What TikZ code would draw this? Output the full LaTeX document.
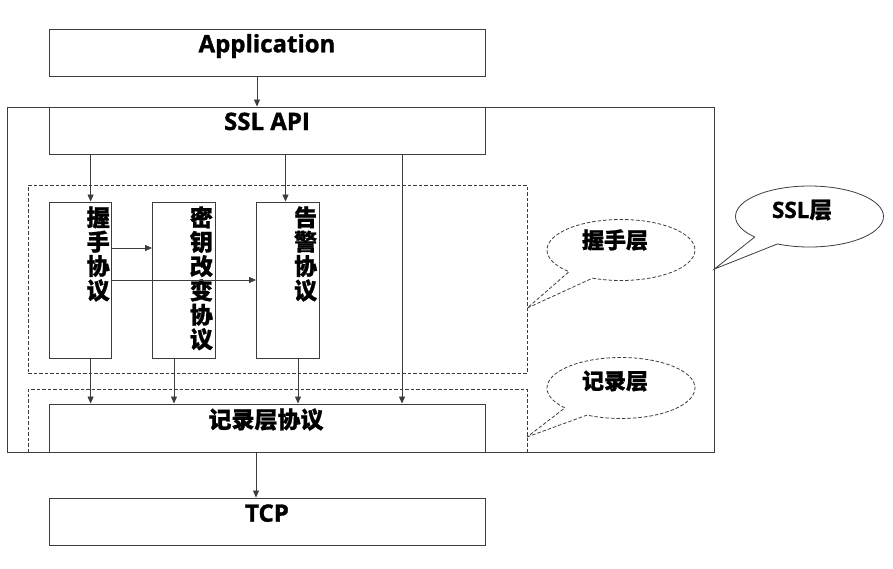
\documentclass[tikz,border=0pt]{standalone}
\usepackage{fontspec}
\setmainfont{Open Sans}[BoldFeatures={FakeBold=1.3}]
\newfontfamily\cjk{Noto Sans CJK SC}[BoldFeatures={FakeBold=1}]
\usetikzlibrary{arrows.meta,shapes.callouts}
\definecolor{lc}{RGB}{60,60,60}
\begin{document}
\begin{tikzpicture}[x=1pt,y=-1pt,
  box/.style={draw=lc, line width=0.9pt, rectangle, inner sep=0pt},
  layer/.style={draw=lc, line width=0.7pt, dashed, dash pattern=on 3.5pt off 2pt, rectangle, inner sep=0pt},
  arr/.style={draw=lc, line width=0.8pt, -{Triangle[length=7pt,width=6pt]}},
  lbl/.style={inner sep=0pt, font=\fontsize{24}{24}\selectfont\bfseries},
  vlbl/.style={inner sep=0pt, align=center, font=\fontsize{23}{24.3}\selectfont\cjk\bfseries},
  bub/.style={ellipse callout, draw=lc, line width=0.8pt, inner sep=0pt, minimum width=148pt, minimum height=61pt, callout pointer arc=22},
  blbl/.style={inner sep=0pt, font=\fontsize{22.5}{24}\selectfont\bfseries}
]
\useasboundingbox (0,0) rectangle (893,568);
% layer dashed boxes
\node[layer, minimum width=499pt, minimum height=188pt] (hsl) at (277.5,279) {};
\coordinate (rl1) at (28,452);
\coordinate (rl2) at (527,452);
\draw[draw=lc, line width=0.7pt, dash pattern=on 3.5pt off 2pt] (rl1) -- (28,389) -- (527,389) -- (rl2);
% main boxes
\node[box, minimum width=706.5pt, minimum height=345pt] (sslout) at (360.75,279.5) {};
\node[box, fill=white, minimum width=436pt, minimum height=47pt] (app) at (267,52.5) {};
\node[box, minimum width=436pt, minimum height=47pt] (api) at (267,130.5) {};
\node[box, fill=white, minimum width=436pt, minimum height=48pt] (rec) at (267,428) {};
\node[box, minimum width=436pt, minimum height=47pt] (tcp) at (267,521.5) {};
\node[box, minimum width=62pt, minimum height=156pt] (hs) at (80,280) {};
\node[box, minimum width=62.5pt, minimum height=156pt] (kc) at (183.75,280) {};
\node[box, minimum width=62.5pt, minimum height=156pt] (al) at (287.75,280) {};
\draw[draw=lc, line width=0.7pt, dash pattern=on 3.5pt off 2pt] (rl1) -- (28,405);
% texts
\node[lbl, anchor=base] (appT) at (267,52.3) {Application};
\node[lbl, anchor=base] (apiT) at (267,130) {SSL API};
\node[lbl, anchor=base] (tcpT) at (267,521.7) {TCP};
\node[lbl, font=\fontsize{23}{24}\selectfont\cjk\bfseries] (recT) at (266,419.5) {记录层协议};
\node[vlbl] (hsT) at (98.2,254) {握\\手\\协\\议};
\node[vlbl] (kcT) at (201.4,278.3) {密\\钥\\改\\变\\协\\议};
\node[vlbl] (alT) at (305.6,254) {告\\警\\协\\议};
% arrows
\draw[arr] ([xshift=-10pt]app.south) -- ([xshift=-10pt]api.north);
\draw[arr] ([xshift=10.6pt]hs.north |- api.south) -- ([xshift=10.6pt]hs.north);
\draw[arr] ([xshift=-2.25pt]al.north |- api.south) -- ([xshift=-2.25pt]al.north);
\draw[arr] (402,154) coordinate (apx) -- (apx |- rec.north);
\draw[arr] ([yshift=32pt]hs.east) -- ([yshift=32pt]hs.east -| kc.west);
\draw[arr] (hs.east) -- (al.west);
\draw[arr] ([xshift=10.6pt]hs.south) -- ([xshift=10.6pt]hs.south |- rec.north);
\draw[arr] ([xshift=-9.75pt]kc.south) -- ([xshift=-9.75pt]kc.south |- rec.north);
\draw[arr] ([xshift=10.25pt]al.south) -- ([xshift=10.25pt]al.south |- rec.north);
\draw[arr] ([xshift=-11pt]rec.south) -- ([xshift=-11pt]tcp.north);
% callouts
\coordinate (sslptr) at ([yshift=10.5pt]sslout.east);
\coordinate (hsptr) at ([yshift=-29pt]hsl.east);
\coordinate (recptr) at (527,437);
\node[bub, callout absolute pointer={(sslptr)}] (sslc) at (809.5,216.5) {};
\node[bub, dashed, dash pattern=on 3.5pt off 2pt, callout absolute pointer={(hsptr)}] (hsc) at (621,250) {};
\node[bub, dashed, dash pattern=on 3.5pt off 2pt, callout absolute pointer={(recptr)}] (recc) at (621,388) {};
\node[blbl, anchor=base] (sslcT) at (802,218) {SSL{\cjk 层}};
\node[blbl, font=\fontsize{22}{24}\selectfont\cjk\bfseries] (hscT) at (615,240) {握手层};
\node[blbl, font=\fontsize{22}{24}\selectfont\cjk\bfseries] (reccT) at (615,381) {记录层};
\end{tikzpicture}
\end{document}
